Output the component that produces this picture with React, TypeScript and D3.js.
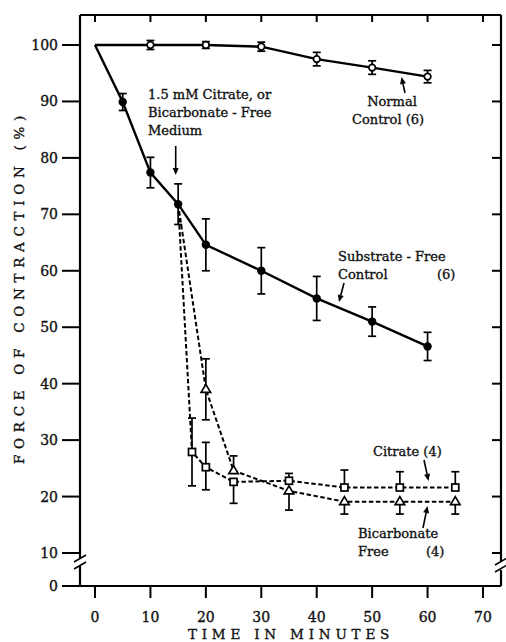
import React from "react";
import * as d3 from "d3";

const xTicks = [0, 10, 20, 30, 40, 50, 60, 70];
const yTicks = [10, 20, 30, 40, 50, 60, 70, 80, 90, 100];

const normalT = [0, 10, 20, 30, 40, 50, 60];
const normalV = [100, 100, 100, 99.7, 97.5, 96, 94.4];
const normalErr = [0, 0.8, 0.6, 0.8, 1.2, 1.2, 1.1];

const subT = [0, 5, 10, 15, 20, 30, 40, 50, 60];
const subV = [100, 89.9, 77.4, 71.8, 64.6, 60, 55.1, 51, 46.6];
const subErr = [0, 1.5, 2.7, 3.6, 4.6, 4.1, 3.9, 2.6, 2.5];

const citT = [15, 17.5, 20, 25, 35, 45, 55, 65];
const citV = [71.8, 27.9, 25.2, 22.6, 22.8, 21.6, 21.6, 21.6];
const citUp = [0, 6, 4.4, 0, 1.3, 3.1, 2.8, 2.8];
const citDown = [0, 6, 4, 3.8, 0, 0, 0, 0];

const bicT = [15, 20, 25, 35, 45, 55, 65];
const bicV = [71.8, 39, 24.6, 21, 19.1, 19.1, 19.1];
const bicUp = [0, 5.4, 2.6, 0, 0, 0, 0];
const bicDown = [0, 5.4, 0, 3.4, 2.2, 2.2, 2.2];

const W = 506;
const H = 642;
const left = 80;
const right = 501;
const top = 15;
const bottom = 586;

const FONT = "DejaVu Serif";

export default function App() {
  const x = d3.scaleLinear().domain([0, 70]).range([95, 483]);
  const y = d3.scaleLinear().domain([10, 100]).range([553, 45]);
  const line = d3
    .line<[number, number]>()
    .x((d) => x(d[0]))
    .y((d) => y(d[1]));

  const zip = (t: number[], v: number[]) => t.map((tt, i) => [tt, v[i]] as [number, number]);

  const errBar = (
    key: string,
    t: number,
    v: number,
    up: number,
    down: number,
    cap = 4
  ) => {
    if (up === 0 && down === 0) return null;
    const cx = x(t);
    const y1 = y(v + up);
    const y2 = y(v - down);
    return (
      <g key={key} stroke="#000" strokeWidth={1.7}>
        <line x1={cx} x2={cx} y1={y1} y2={y2} />
        {up > 0 && <line x1={cx - cap} x2={cx + cap} y1={y1} y2={y1} />}
        {down > 0 && <line x1={cx - cap} x2={cx + cap} y1={y2} y2={y2} />}
      </g>
    );
  };

  const tri = (cx: number, cy: number, s: number) =>
    `M${cx},${cy - s}L${cx + s * 0.95},${cy + s * 0.6}L${cx - s * 0.95},${cy + s * 0.6}Z`;

  const arrow = (x1: number, y1: number, x2: number, y2: number, key: string) => {
    const a = Math.atan2(y2 - y1, x2 - x1);
    const L = 7;
    const w = 3;
    const bx = x2 - L * Math.cos(a);
    const by = y2 - L * Math.sin(a);
    const px = -Math.sin(a) * w;
    const py = Math.cos(a) * w;
    return (
      <g key={key}>
        <line x1={x1} y1={y1} x2={bx} y2={by} stroke="#000" strokeWidth={1.6} />
        <path d={`M${x2},${y2}L${bx + px},${by + py}L${bx - px},${by - py}Z`} fill="#000" />
      </g>
    );
  };

  const txt = {
    fontFamily: FONT,
    fontSize: 13,
    fill: "#111",
    stroke: "#111",
    strokeWidth: 0.35,
  } as const;

  return (
    <svg width={W} height={H} style={{ position: "absolute", left: 0, top: 0, background: "#fff" }}>
      <rect width={W} height={H} fill="#fff" />
      {/* frame */}
      <g stroke="#000" strokeWidth={2.2} fill="none">
        <line x1={left} x2={right} y1={top} y2={top} />
        <line x1={left} x2={left} y1={top} y2={558} />
        <line x1={left} x2={left} y1={566} y2={bottom} />
        <line x1={right} x2={right} y1={top} y2={561} />
        <line x1={right} x2={right} y1={570} y2={bottom} />
        <line x1={62} x2={right} y1={bottom} y2={bottom} />
        {/* breaks */}
        <line x1={74} x2={86} y1={562} y2={555} strokeWidth={1.6} />
        <line x1={74} x2={86} y1={569} y2={562} strokeWidth={1.6} />
        <line x1={495} x2={507} y1={565} y2={558} strokeWidth={1.6} />
        <line x1={495} x2={507} y1={572} y2={565} strokeWidth={1.6} />
      </g>
      {/* y ticks */}
      {yTicks.map((v) => (
        <g key={"yt" + v} stroke="#000" strokeWidth={2}>
          <line x1={62} x2={left} y1={y(v)} y2={y(v)} />
          <line x1={right - 9} x2={right} y1={y(v)} y2={y(v)} />
        </g>
      ))}
      {yTicks.map((v) => (
        <text key={"yl" + v} x={58} y={y(v) + 5} textAnchor="end" {...txt} fontSize={14}>
          {v}
        </text>
      ))}
      <text x={58} y={bottom + 5} textAnchor="end" {...txt} fontSize={14}>
        0
      </text>
      {/* x ticks */}
      {xTicks.map((t) => (
        <g key={"xt" + t} stroke="#000" strokeWidth={2}>
          <line x1={x(t)} x2={x(t)} y1={bottom} y2={bottom + 12} />
          <line x1={x(t)} x2={x(t)} y1={top} y2={top + 7} />
        </g>
      ))}
      {xTicks.map((t) => (
        <text key={"xl" + t} x={x(t)} y={622} textAnchor="middle" {...txt} fontSize={14}>
          {t}
        </text>
      ))}
      {/* axis titles */}
      <text x={291} y={639} textAnchor="middle" {...txt} fontSize={13.5} letterSpacing={4.8}>
        TIME IN MINUTES
      </text>
      <text
        transform={`translate(24,${287}) rotate(-90)`}
        textAnchor="middle"
        {...txt}
        fontSize={13.5}
        letterSpacing={5.7}
      >
        FORCE OF CONTRACTION (%)
      </text>

      {/* dashed series */}
      <path d={line(zip(citT, citV)) || ""} fill="none" stroke="#000" strokeWidth={2} strokeDasharray="4.5,2.5" />
      <path d={line(zip(bicT, bicV)) || ""} fill="none" stroke="#000" strokeWidth={2} strokeDasharray="4.5,2.5" />
      {citT.map((t, i) => errBar("ce" + i, t, citV[i], citUp[i], citDown[i]))}
      {bicT.map((t, i) => errBar("be" + i, t, bicV[i], bicUp[i], bicDown[i]))}
      {citT.map((t, i) =>
        i === 0 ? null : (
          <rect key={"cs" + i} x={x(t) - 3.5} y={y(citV[i]) - 3.5} width={7} height={7} fill="#fff" stroke="#000" strokeWidth={1.7} />
        )
      )}
      {bicT.map((t, i) =>
        i === 0 ? null : (
          <path key={"bt" + i} d={tri(x(t), y(bicV[i]), 5)} fill="#fff" stroke="#000" strokeWidth={1.7} />
        )
      )}

      {/* solid series */}
      <path d={line(zip(normalT, normalV)) || ""} fill="none" stroke="#000" strokeWidth={2.4} />
      <path d={line(zip(subT, subV)) || ""} fill="none" stroke="#000" strokeWidth={2.4} />
      {normalT.map((t, i) => errBar("ne" + i, t, normalV[i], normalErr[i], normalErr[i], 4))}
      {subT.map((t, i) => errBar("se" + i, t, subV[i], subErr[i], subErr[i], 4))}
      {normalT.map((t, i) =>
        i === 0 ? null : (
          <circle key={"nc" + i} cx={x(t)} cy={y(normalV[i])} r={3.3} fill="#fff" stroke="#000" strokeWidth={1.7} />
        )
      )}
      {subT.map((t, i) =>
        i === 0 ? null : <circle key={"sc" + i} cx={x(t)} cy={y(subV[i])} r={4.2} fill="#000" />
      )}

      {/* annotations */}
      <text {...txt} x={148} y={99}>1.5 mM Citrate, or</text>
      <text {...txt} x={148} y={117}>Bicarbonate - Free</text>
      <text {...txt} x={148} y={135}>Medium</text>
      {arrow(175.7, 146, 175.7, 175, "a1")}

      <text {...txt} x={392} y={106} textAnchor="middle">Normal</text>
      <text {...txt} x={352} y={124}>Control (6)</text>
      {arrow(405, 93, 401.5, 77, "a2")}

      <text {...txt} x={338} y={261}>Substrate - Free</text>
      <text {...txt} x={338} y={279}>Control</text>
      <text {...txt} x={437} y={279}>(6)</text>
      {arrow(344, 283, 339, 302, "a3")}

      <text {...txt} x={373} y={456}>Citrate (4)</text>
      {arrow(424, 460, 428.5, 481, "a4")}

      <text {...txt} x={358} y={538}>Bicarbonate</text>
      <text {...txt} x={358} y={556}>Free</text>
      <text {...txt} x={426} y={556}>(4)</text>
      {arrow(423, 528, 427.5, 506, "a5")}
    </svg>
  );
}
